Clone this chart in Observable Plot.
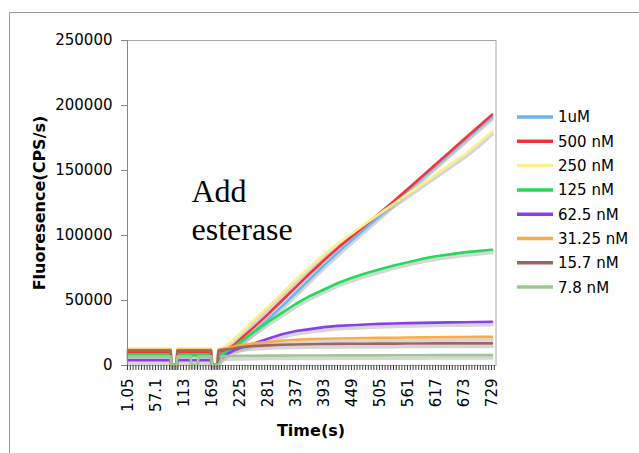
<!DOCTYPE html>
<html>
<head>
<meta charset="utf-8">
<script src="https://cdn.jsdelivr.net/npm/d3@7"></script>
<script src="https://cdn.jsdelivr.net/npm/@observablehq/plot@0.6"></script>
<style>
  html, body { margin: 0; padding: 0; background: #fff; }
  #wrap { position: relative; width: 639px; height: 453px; overflow: hidden; }
  #outer { position: absolute; left: 9px; top: 12px; width: 700px; height: 500px;
           border-left: 1px solid #9c9c9c; border-top: 1px solid #9c9c9c; pointer-events: none; }
</style>
</head>
<body>
<div id="wrap"><div id="outer"></div></div>
<script>
// ---- data ----
const times = [1.05, 86, 88, 98, 100, 126, 128, 140, 142, 167, 169, 180, 182,
  190, 200, 212, 225, 253, 281, 309, 337, 365, 393, 421, 449, 477, 505, 533, 561, 589, 617, 645, 673, 701, 729];

const seriesNames = ["1uM", "500 nM", "250 nM", "125 nM", "62.5 nM", "31.25 nM", "15.7 nM", "7.8 nM"];
const seriesColors = ["#6cb6f5", "#f5333b", "#fdef8e", "#1fdc5b", "#8b3df2", "#fdab47", "#9c6464", "#9fc894"];

const v1uM = [9500, 9500, 500, 500, 9500, 9500, 9500, 9500, 9500, 9500, 500, 500, 9500,
  10500, 11500, 13500, 17000, 26000, 35500, 45500, 56000, 66500, 77000, 87000, 96500, 106000, 115500, 125000, 134500, 144500, 154000, 163500, 173000, 182500, 191500];
const v500 = [10500, 10500, 500, 500, 10500, 10500, 10500, 10500, 10500, 10500, 500, 500, 10500,
  11000, 12500, 15500, 20000, 29500, 39500, 50000, 60500, 71000, 81000, 90500, 99500, 108500, 117500, 126500, 136000, 145500, 155000, 164500, 174000, 183500, 193000];
const v250 = [13000, 13000, 500, 500, 13000, 13000, 13000, 13000, 13000, 13000, 500, 500, 13000,
  13500, 16000, 20000, 24500, 35000, 45000, 55500, 66000, 76000, 85500, 94000, 101500, 109500, 117000, 124500, 132000, 139500, 147000, 154500, 162000, 170500, 180000];
const v125 = [8000, 8000, 500, 500, 8000, 8000, 8000, 8000, 8000, 8000, 500, 500, 8000,
  9000, 11000, 14000, 18000, 26000, 33500, 40500, 47500, 53500, 58500, 63500, 67500, 71000, 74000, 77000, 79500, 82000, 84000, 85500, 87000, 88000, 89000];
const v62 = [4000, 4000, 500, 500, 4000, 4000, 4000, 4000, 4000, 4000, 500, 500, 4000,
  6000, 9000, 11500, 13500, 17000, 20500, 24000, 26500, 28000, 29500, 30500, 31000, 31500, 32000, 32300, 32600, 32800, 33000, 33200, 33300, 33500, 33700];
const v31 = [12000, 12000, 500, 500, 12000, 12000, 12000, 12000, 12000, 12000, 500, 500, 12000,
  12500, 13500, 14500, 15500, 17000, 18000, 19000, 19800, 20300, 20600, 20800, 21000, 21200, 21300, 21400, 21500, 21600, 21700, 21800, 21900, 22000, 22000];
const v15 = [11500, 11500, 500, 500, 11500, 11500, 11500, 11500, 11500, 11500, 500, 500, 11500,
  12000, 12500, 13000, 14000, 15000, 15500, 16000, 16200, 16400, 16500, 16600, 16700, 16700, 16800, 16800, 16900, 16900, 17000, 17000, 17000, 17000, 17000];
const v7 = [7000, 7000, 500, 500, 7000, 7000, 500, 500, 7000, 7000, 500, 500, 500,
  7000, 7200, 7300, 7400, 7500, 7600, 7600, 7700, 7700, 7700, 7800, 7800, 7800, 7800, 7900, 7900, 7900, 8000, 8000, 8000, 8000, 8000];

const seriesValues = [v1uM, v500, v250, v125, v62, v31, v15, v7];

const xTickValues = [1.05, 57.1, 113, 169, 225, 281, 337, 393, 449, 505, 561, 617, 673, 729];
const xTickLabels = ["1.05", "57.1", "113", "169", "225", "281", "337", "393", "449", "505", "561", "617", "673", "729"];
const yTickValues = [0, 50000, 100000, 150000, 200000, 250000];
const annotation = [{t: 128, v: 146700, text: "Add\nesterase"}];

// ---- build rows ----
const rows = seriesNames.flatMap((name, s) =>
  times.map((t, i) => ({series: name, t, v: seriesValues[s][i]})));

const minorTicks = d3.range(0, 737, 5.6);
const labelOf = new Map(xTickValues.map((v, i) => [v, xTickLabels[i]]));

const chart = Plot.plot({
  width: 639,
  height: 453,
  marginLeft: 127,
  marginRight: 143.5,
  marginTop: 40,
  marginBottom: 88,
  style: {fontFamily: "'DejaVu Sans', Verdana, sans-serif", fontSize: "15px", color: "#000", background: "transparent"},
  x: {domain: [0, 737]},
  y: {domain: [0, 250000]},
  color: {domain: seriesNames, range: seriesColors},
  marks: [
    Plot.frame({stroke: "#a8a8a8"}),
    Plot.lineY(rows, {x: "t", y: "v", z: "series", stroke: "#b4b4b4", strokeWidth: 3.5, strokeOpacity: 0.55, dy: 3}),
    Plot.lineY(rows, {x: "t", y: "v", z: "series", stroke: "series", strokeWidth: 2.6}),
    Plot.ruleX([0], {stroke: "#858585"}),
    Plot.axisY({ticks: yTickValues, tickSize: 6, tickPadding: 9, tickFormat: d3.format("d"), label: null, stroke: "#858585"}),
    Plot.axisX({ticks: minorTicks, tickSize: 5, tickFormat: () => "", label: null, stroke: "#3a3a3a"}),
    Plot.axisX({ticks: xTickValues, tickSize: 0, tickPadding: 13, tickRotate: -90, tickFormat: d => labelOf.get(d), label: null}),
    Plot.text(annotation, {x: "t", y: "v", text: "text", textAnchor: "start", lineAnchor: "top", lineHeight: 1.19,
      fontFamily: "'Liberation Serif', 'Times New Roman', serif", fontSize: 32, fill: "#000"})
  ]
});

const svg = d3.select(chart);
// axis titles
svg.append("text")
  .attr("x", 311).attr("y", 436)
  .attr("text-anchor", "middle")
  .attr("font-family", "'DejaVu Sans', Verdana, sans-serif")
  .attr("font-size", 16).attr("font-weight", "bold")
  .text("Time(s)");
svg.append("text")
  .attr("transform", "translate(45,203) rotate(-90)")
  .attr("text-anchor", "middle")
  .attr("font-family", "'DejaVu Sans', Verdana, sans-serif")
  .attr("font-size", 16).attr("font-weight", "bold")
  .text("Fluoresence(CPS/s)");

// legend
const lg = svg.append("g")
  .attr("font-family", "'DejaVu Sans', Verdana, sans-serif")
  .attr("font-size", 15)
  .attr("text-anchor", "start");
seriesNames.forEach((name, i) => {
  const y = 117 + i * 24.3;
  lg.append("line").attr("x1", 517).attr("x2", 553).attr("y1", y).attr("y2", y)
    .attr("stroke", seriesColors[i]).attr("stroke-width", 3.5);
  lg.append("text").attr("x", 558).attr("y", y).attr("dy", "0.36em")
    .attr("text-anchor", "start").text(name);
});

document.getElementById("wrap").prepend(chart);
chart.style.position = "absolute";
chart.style.left = "0";
chart.style.top = "0";
</script>
</body>
</html>
